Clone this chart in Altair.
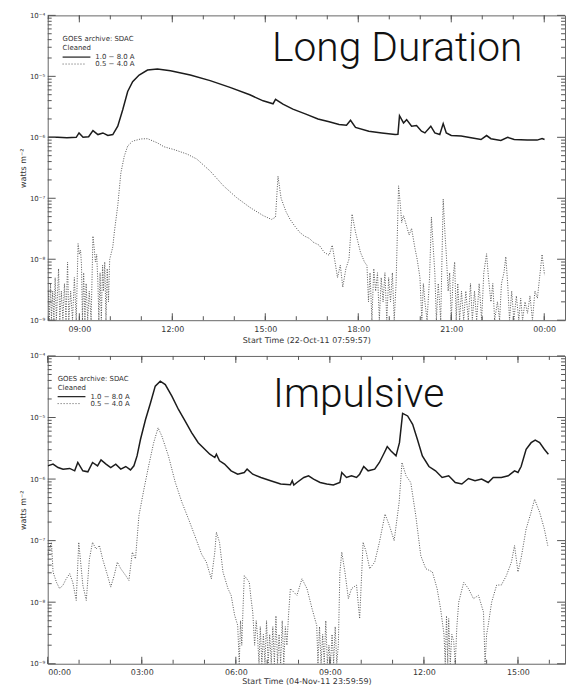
import altair as alt
import pandas as pd

# ---------------- Top panel: Long Duration (22-Oct-11), hours of day ----------------
top_solid_t = [8.00, 8.30, 8.60, 8.90, 8.99, 9.12, 9.30, 9.44, 9.60, 9.76,
               9.92, 10.08, 10.24, 10.40, 10.56, 10.72, 10.93, 11.20, 11.52, 11.94,
               12.58, 13.22, 13.86, 14.50, 14.93, 15.25, 15.33, 15.57, 15.89, 16.31,
               16.70, 17.06, 17.38, 17.62, 17.75, 17.91, 18.34, 18.76, 19.19, 19.28,
               19.33, 19.46, 19.56, 19.72, 19.88, 20.04, 20.15, 20.34, 20.47, 20.63,
               20.74, 20.84, 21.00, 21.32, 21.64, 21.96, 22.14, 22.28, 22.60, 22.82,
               23.03, 23.45, 23.77, 23.93, 24.01]
top_solid_v = [1.00e-6, 1.00e-6, 0.98e-6, 1.00e-6, 1.18e-6, 1.00e-6, 1.02e-6, 1.29e-6, 1.11e-6, 1.18e-6,
               1.07e-6, 1.11e-6, 1.52e-6, 2.84e-6, 5.64e-6, 8.20e-6, 1.05e-5, 1.27e-5, 1.32e-5, 1.24e-5,
               1.05e-5, 8.5e-6, 6.6e-6, 4.98e-6, 3.97e-6, 3.55e-6, 4.2e-6, 3.5e-6, 2.9e-6, 2.4e-6,
               2.0e-6, 1.8e-6, 1.62e-6, 1.58e-6, 1.9e-6, 1.45e-6, 1.26e-6, 1.18e-6, 1.11e-6, 1.12e-6,
               2.26e-6, 1.72e-6, 1.95e-6, 1.52e-6, 1.56e-6, 1.26e-6, 1.18e-6, 1.52e-6, 1.18e-6, 1.11e-6,
               1.68e-6, 1.18e-6, 1.07e-6, 1.05e-6, 0.98e-6, 0.92e-6, 1.07e-6, 0.95e-6, 0.89e-6, 1.00e-6,
               0.92e-6, 0.90e-6, 0.90e-6, 0.955e-6, 0.92e-6]

top_dot_t = [8.00, 8.03, 8.07, 8.10, 8.14, 8.18, 8.22, 8.26, 8.30, 8.33,
             8.37, 8.42, 8.47, 8.52, 8.57, 8.62, 8.66, 8.72, 8.78, 8.84,
             8.90, 8.96, 9.00, 9.04, 9.07, 9.10, 9.14, 9.18, 9.22, 9.27,
             9.32, 9.38, 9.44, 9.48, 9.52, 9.56, 9.60, 9.63, 9.67, 9.71,
             9.75, 9.78, 9.82, 9.86, 9.90, 9.94, 9.98, 10.02, 10.08, 10.13,
             10.24, 10.34, 10.45, 10.56, 10.72, 10.98, 11.20, 11.52, 11.73, 12.05,
             12.48, 12.79, 13.22, 13.65, 14.07, 14.50, 14.93, 15.20, 15.33, 15.41,
             15.51, 15.67, 15.80, 15.95, 16.10, 16.26, 16.42, 16.55, 16.74, 16.90,
             17.06, 17.16, 17.25, 17.33, 17.42, 17.50, 17.60, 17.70, 17.80, 17.91,
             18.07, 18.20, 18.28, 18.33, 18.38, 18.44, 18.50, 18.56, 18.62, 18.68,
             18.74, 18.80, 18.86, 18.92, 18.98, 19.04, 19.10, 19.16, 19.22, 19.30,
             19.36, 19.40, 19.46, 19.56, 19.64, 19.72, 19.83, 19.90, 19.99, 20.05,
             20.10, 20.15, 20.22, 20.30, 20.36, 20.42, 20.47, 20.52, 20.58, 20.66,
             20.74, 20.80, 20.84, 20.90, 20.95, 21.00, 21.06, 21.11, 21.16, 21.21,
             21.27, 21.33, 21.40, 21.47, 21.55, 21.62, 21.68, 21.75, 21.82, 21.90,
             21.98, 22.05, 22.14, 22.20, 22.28, 22.34, 22.40, 22.49, 22.56, 22.62,
             22.70, 22.76, 22.82, 22.88, 22.95, 23.02, 23.10, 23.18, 23.24, 23.30,
             23.38, 23.46, 23.54, 23.62, 23.70, 23.78, 23.85, 23.93, 24.01]
top_dot_v = [3e-9, 1e-9, 4e-9, 1e-9, 3e-9, 1e-9, 5e-9, 1e-9, 3e-9, 7e-9,
             1e-9, 3e-9, 1e-9, 4e-9, 1e-9, 9e-9, 1e-9, 3e-9, 1e-9, 5e-9,
             1e-9, 1.8e-8, 1.2e-8, 1.4e-8, 8e-9, 1e-9, 6e-9, 1e-9, 4e-9, 1e-9,
             3e-9, 1e-9, 2.4e-8, 1.5e-8, 9e-9, 1.2e-8, 4e-9, 1e-9, 6e-9, 1e-9,
             8e-9, 3e-9, 9e-9, 1e-9, 7e-9, 2e-9, 1e-8, 1.2e-8, 1.6e-8, 2.8e-8,
             7.6e-8, 2.6e-7, 4.9e-7, 7.2e-7, 8.65e-7, 9.4e-7, 9.5e-7, 8.1e-7, 7.0e-7, 6.3e-7,
             5.3e-7, 4.4e-7, 2.8e-7, 1.6e-7, 1.03e-7, 7.1e-8, 5.2e-8, 4.5e-8, 4.9e-8, 2.3e-7,
             1.0e-7, 6.0e-8, 4.5e-8, 3.5e-8, 2.8e-8, 2.4e-8, 2.2e-8, 1.9e-8, 1.7e-8, 1.3e-8,
             1.16e-8, 1.7e-8, 9e-9, 5e-9, 8e-9, 3.5e-9, 7e-9, 1.0e-8, 5.5e-8, 2.8e-8,
             1.3e-8, 9e-9, 7.9e-9, 2e-9, 6e-9, 1e-9, 7e-9, 3e-9, 6e-9, 1e-9,
             5e-9, 2e-9, 6e-9, 1e-9, 5e-9, 2e-9, 6e-9, 1e-9, 4e-9, 1.6e-7,
             7.6e-8, 4e-8, 5.2e-8, 3.5e-8, 2.5e-8, 3.2e-8, 1.5e-8, 1e-8, 5e-9, 1e-9,
             4e-9, 2e-9, 1e-9, 5e-9, 4.9e-8, 1.5e-8, 6e-9, 1e-9, 4e-9, 1e-9,
             9.7e-8, 2.5e-8, 1.2e-8, 3e-9, 6e-9, 1e-9, 5e-9, 9e-9, 1e-9, 4e-9,
             1e-9, 3e-9, 1e-9, 3e-9, 1e-9, 4e-9, 1e-9, 3e-9, 1e-9, 4e-9,
             1e-9, 6e-9, 1.23e-8, 5e-9, 2e-9, 4e-9, 1e-9, 2e-9, 1e-9, 4e-9,
             6e-9, 1.1e-8, 4e-9, 1e-9, 3e-9, 1e-9, 2.5e-9, 1e-9, 2.3e-9, 1e-9,
             2e-9, 1.3e-9, 2.5e-9, 1e-9, 3e-9, 2.3e-9, 5e-9, 1.2e-8, 5.5e-9]

# ---------------- Bottom panel: Impulsive (05-Nov-11), hours of day ----------------
bot_solid_t = [0.00, 0.17, 0.33, 0.49, 0.70, 0.86, 0.96, 1.12, 1.28, 1.43,
               1.59, 1.70, 1.86, 2.01, 2.17, 2.33, 2.49, 2.64, 2.75, 2.85,
               2.96, 3.12, 3.28, 3.43, 3.59, 3.75, 3.96, 4.17, 4.38, 4.59,
               4.80, 5.01, 5.17, 5.33, 5.38, 5.48, 5.64, 5.85, 6.06, 6.27,
               6.36, 6.54, 6.80, 7.11, 7.43, 7.74, 7.80, 7.85, 7.95, 8.17,
               8.32, 8.48, 8.69, 8.90, 9.11, 9.32, 9.38, 9.53, 9.69, 9.85,
               9.95, 10.08, 10.22, 10.43, 10.58, 10.74, 10.83, 10.95, 11.11, 11.22,
               11.32, 11.48, 11.64, 11.79, 11.95, 12.16, 12.37, 12.58, 12.79, 13.00,
               13.21, 13.42, 13.63, 13.84, 14.05, 14.21, 14.47, 14.69, 14.89, 15.00,
               15.10, 15.26, 15.42, 15.55, 15.69, 15.84, 15.97]
bot_solid_v = [1.64e-6, 1.75e-6, 1.54e-6, 1.45e-6, 1.49e-6, 1.36e-6, 1.86e-6, 1.36e-6, 1.31e-6, 1.86e-6,
               1.64e-6, 2.05e-6, 1.75e-6, 1.54e-6, 1.75e-6, 1.45e-6, 1.6e-6, 1.41e-6, 1.64e-6, 2.38e-6,
               4.43e-6, 9.3e-6, 1.74e-5, 3.23e-5, 3.89e-5, 3.43e-5, 2.22e-5, 1.35e-5, 8.8e-6, 5.7e-6,
               3.9e-6, 3.05e-6, 2.53e-6, 2.24e-6, 2.53e-6, 1.98e-6, 1.75e-6, 1.36e-6, 1.2e-6, 1.28e-6,
               1.45e-6, 1.2e-6, 1.06e-6, 0.94e-6, 0.83e-6, 0.81e-6, 0.94e-6, 0.80e-6, 0.88e-6, 1.06e-6,
               1.13e-6, 1.0e-6, 0.88e-6, 0.83e-6, 0.80e-6, 0.88e-6, 1.28e-6, 1.06e-6, 1.13e-6, 1.06e-6,
               1.2e-6, 1.6e-6, 1.36e-6, 1.45e-6, 1.86e-6, 2.7e-6, 3.37e-6, 2.86e-6, 2.38e-6, 3.9e-6,
               1.17e-5, 1.06e-5, 7.75e-6, 4.43e-6, 2.38e-6, 1.6e-6, 1.36e-6, 1.06e-6, 1.13e-6, 0.88e-6,
               0.83e-6, 1.02e-6, 0.94e-6, 1.0e-6, 0.88e-6, 1.06e-6, 1.06e-6, 1.13e-6, 1.36e-6, 1.28e-6,
               1.6e-6, 3.05e-6, 3.9e-6, 4.3e-6, 3.9e-6, 3.05e-6, 2.53e-6]

bot_dot_t = [0.00, 0.12, 0.17, 0.28, 0.38, 0.49, 0.59, 0.70, 0.80, 0.91,
             0.99, 1.12, 1.23, 1.33, 1.43, 1.54, 1.65, 1.75, 1.91, 2.01,
             2.12, 2.22, 2.33, 2.49, 2.59, 2.70, 2.80, 2.91, 3.07, 3.22,
             3.38, 3.52, 3.64, 3.85, 4.07, 4.28, 4.49, 4.69, 4.91, 5.06,
             5.22, 5.33, 5.38, 5.48, 5.59, 5.75, 5.85, 5.96, 6.06, 6.11,
             6.15, 6.19, 6.23, 6.27, 6.35, 6.43, 6.48, 6.54, 6.60, 6.65,
             6.69, 6.74, 6.78, 6.83, 6.88, 6.93, 6.98, 7.03, 7.08, 7.13,
             7.18, 7.23, 7.28, 7.33, 7.38, 7.43, 7.48, 7.53, 7.58, 7.63,
             7.68, 7.74, 7.95, 8.11, 8.27, 8.43, 8.58, 8.62, 8.67, 8.72,
             8.77, 8.82, 8.87, 8.92, 8.97, 9.02, 9.07, 9.12, 9.17, 9.22,
             9.27, 9.32, 9.38, 9.48, 9.59, 9.69, 9.85, 9.95, 10.06, 10.16,
             10.27, 10.43, 10.58, 10.76, 10.90, 11.05, 11.21, 11.30, 11.43, 11.58,
             11.74, 11.90, 12.06, 12.27, 12.42, 12.53, 12.64, 12.68, 12.72, 12.76,
             12.79, 12.84, 12.89, 12.95, 13.00, 13.05, 13.11, 13.27, 13.42, 13.58,
             13.74, 13.90, 13.95, 14.00, 14.05, 14.16, 14.32, 14.47, 14.63, 14.79,
             14.89, 15.00, 15.10, 15.26, 15.42, 15.53, 15.69, 15.84, 15.95]
bot_dot_v = [5.7e-8, 9.4e-8, 3.1e-8, 2.1e-8, 1.66e-8, 1.9e-8, 2.4e-8, 2.9e-8, 2.1e-8, 1.07e-8,
             9.4e-8, 1.9e-8, 1.07e-8, 5.06e-8, 9.4e-8, 7.3e-8, 8.3e-8, 5.06e-8, 2.7e-8, 1.76e-8,
             2.7e-8, 4.47e-8, 3.5e-8, 2.7e-8, 2.26e-8, 6.5e-8, 5.06e-8, 2.55e-7, 6.9e-7, 1.64e-6,
             3.9e-6, 6.8e-6, 5.0e-6, 2.38e-6, 8.8e-7, 4.2e-7, 2.25e-7, 1.21e-7, 6.0e-8, 4.47e-8,
             2.4e-8, 6.5e-8, 1.37e-7, 9.4e-8, 3.1e-8, 1.66e-8, 1.29e-8, 6.2e-9, 4.2e-9, 1e-9,
             5e-9, 2e-9, 8e-9, 2.7e-8, 2.4e-8, 2.1e-8, 1.2e-8, 6.9e-9, 2e-9, 5e-9,
             2.9e-9, 1e-9, 4e-9, 1e-9, 3e-9, 1e-9, 5e-9, 1e-9, 3e-9, 1e-9,
             4e-9, 1e-9, 6e-9, 1e-9, 3e-9, 1e-9, 5e-9, 1e-9, 4e-9, 2e-9,
             6e-9, 1.66e-8, 1.29e-8, 2.4e-8, 1.66e-8, 7.9e-9, 4.2e-9, 1e-9, 4e-9, 1e-9,
             3e-9, 1e-9, 5e-9, 1e-9, 2e-9, 1e-9, 3e-9, 1e-9, 4e-9, 1e-9,
             2e-9, 3.1e-8, 6.5e-8, 3.1e-8, 1.14e-8, 1.66e-8, 1.9e-8, 5.4e-9, 9.4e-8, 6.5e-8,
             3.5e-8, 4.47e-8, 9.4e-8, 2.7e-7, 1.75e-7, 1.0e-7, 4.2e-7, 1.86e-6, 1.13e-6, 8.8e-7,
             2.55e-7, 5.7e-8, 3.5e-8, 3.1e-8, 1.66e-8, 7.9e-9, 3e-9, 1e-9, 6e-9, 1e-9,
             5.4e-9, 1e-9, 3e-9, 2.3e-9, 1e-9, 4e-9, 1.0e-8, 2.1e-8, 1.66e-8, 1.14e-8,
             1.29e-8, 6.9e-9, 1e-9, 3e-9, 4.2e-9, 1.0e-8, 1.9e-8, 1.9e-8, 2.7e-8, 4.47e-8,
             8.3e-8, 3.1e-8, 5.2e-8, 1.55e-7, 2.9e-7, 4.7e-7, 2.9e-7, 1.55e-7, 8.3e-8]

# ---------------- axis ticks ----------------
top_x_major = [9, 12, 15, 18, 21, 24]
top_x_minor = list(range(8, 25))
bot_x_major = [0, 3, 6, 9, 12, 15]
bot_x_minor = list(range(0, 17))
y_decades = [1e-9, 1e-8, 1e-7, 1e-6, 1e-5, 1e-4]
y_minor = [m * d for d in y_decades[:-1] for m in range(2, 10)]

W = 521
SOLID = "#1c1c1c"
DOT = "#555555"
TICK = "#555555"

x_label_expr = "(datum.value % 24 < 10 ? '0' : '') + (datum.value % 24) + ':00'"
y_label_expr = "'10' + ['⁻⁹','⁻⁸','⁻⁷','⁻⁶','⁻⁵','⁻⁴'][round(log(datum.value)/LN10) + 9]"

one = pd.DataFrame({"a": [0]})


def panel(ts, vs, td, vd, xdom, xmaj, xmin, xtitle, H, big, big_x, big_y, lx, ly, tpad):
    xs = alt.Scale(domain=xdom, nice=False, zero=False)
    ys = alt.Scale(type="log", domain=[1e-9, 1e-4], nice=False)
    xax = alt.Axis(values=xmaj, labelExpr=x_label_expr, title=xtitle, ticks=False,
                   domain=False, grid=False, labelPadding=5, titlePadding=tpad)
    yax = alt.Axis(values=y_decades, labelExpr=y_label_expr, title="watts m⁻²", ticks=False,
                   domain=False, grid=False, labelPadding=3, titlePadding=2, labelFontSize=7)

    def X(field="t"):
        return alt.X(field + ":Q", scale=xs, axis=xax, title=xtitle)

    def Y(field="v"):
        return alt.Y(field + ":Q", scale=ys, axis=yax, title="watts m⁻²")

    solid = alt.Chart(pd.DataFrame({"t": ts, "v": vs})).mark_line(
        color=SOLID, strokeWidth=1.5, clip=True
    ).encode(x=X(), y=Y())
    dotted = alt.Chart(pd.DataFrame({"t": td, "v": vd})).mark_line(
        color=DOT, strokeWidth=1, strokeDash=[1, 1.5], clip=True
    ).encode(x=X(), y=Y())

    def xt(vals, size, top):
        return alt.Chart(pd.DataFrame({"t": vals})).mark_rule(color=TICK, strokeWidth=1).encode(
            x=X(),
            y=alt.value(0 if top else H),
            y2=alt.value(size if top else H - size),
        )

    def yt(vals, size, right):
        return alt.Chart(pd.DataFrame({"v": vals})).mark_rule(color=TICK, strokeWidth=1).encode(
            y=Y(),
            x=alt.value(W if right else 0),
            x2=alt.value(W - size if right else size),
        )

    def txt(s, x, y, size, **kw):
        return alt.Chart(one).mark_text(
            text=s, align="left", baseline="middle", fontSize=size, **kw
        ).encode(x=alt.value(x), y=alt.value(y))

    bigtxt = alt.Chart(one).mark_text(
        text=big, align="left", baseline="alphabetic", fontSize=41,
        font="Roboto", fontWeight=300, color="#111"
    ).encode(x=alt.value(big_x), y=alt.value(big_y))

    leg_font = dict(font="DejaVu Sans", color="#333")
    legend = [
        txt("GOES archive: SDAC", lx, ly, 7, **leg_font),
        txt("Cleaned", lx, ly + 9, 7, **leg_font),
        alt.Chart(one).mark_rule(color=SOLID, strokeWidth=1.2).encode(
            x=alt.value(lx), x2=alt.value(lx + 28), y=alt.value(ly + 18)),
        txt("1.0 − 8.0 A", lx + 33, ly + 18, 7, **leg_font),
        alt.Chart(one).mark_rule(color=DOT, strokeWidth=1, strokeDash=[1, 2]).encode(
            x=alt.value(lx), x2=alt.value(lx + 24), y=alt.value(ly + 25)),
        txt("0.5 − 4.0 A", lx + 33, ly + 25, 7, **leg_font),
    ]

    return alt.layer(
        solid, dotted,
        xt(xmin, 4, False), xt(xmaj, 7, False), xt(xmin, 4, True), xt(xmaj, 7, True),
        yt(y_minor, 4, False), yt(y_decades, 8, False), yt(y_minor, 4, True), yt(y_decades, 8, True),
        bigtxt, *legend,
    ).properties(width=W, height=H)


top = panel(top_solid_t, top_solid_v, top_dot_t, top_dot_v, [7.98, 24.67],
            top_x_major, top_x_minor, "Start Time (22-Oct-11 07:59:57)", 307,
            "Long Duration", 226, 46, 15, 24, 3)
bottom = panel(bot_solid_t, bot_solid_v, bot_dot_t, bot_dot_v, [0.0, 16.5],
               bot_x_major, bot_x_minor, "Start Time (04-Nov-11 23:59:59)", 310,
               "Impulsive", 227, 51, 10, 23, 1)

chart = alt.vconcat(top, bottom, spacing=6).properties(
    padding={"left": 11, "top": 0, "right": 0, "bottom": 0}
).configure_view(
    stroke="#666666", strokeWidth=1
).configure_axis(
    labelFont="DejaVu Sans", labelFontSize=8, labelColor="#333333",
    titleFont="DejaVu Sans", titleFontSize=8, titleFontWeight="normal", titleColor="#333333",
)

chart.save("out.html", embed_options={"renderer": "svg", "actions": False})
